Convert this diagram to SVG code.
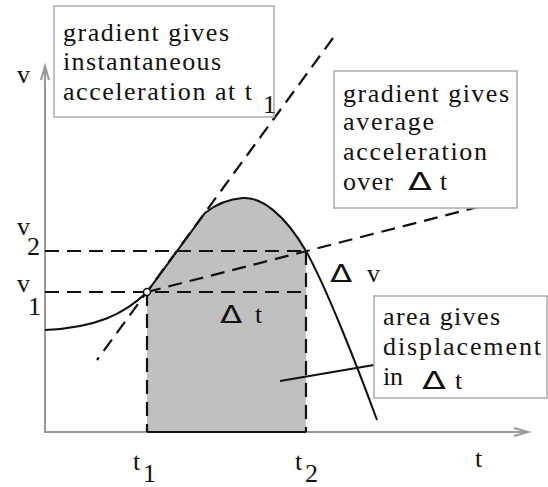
<svg xmlns="http://www.w3.org/2000/svg" width="548" height="487" viewBox="0 0 548 487">
<style>
.t{font-family:'Liberation Serif',serif;font-size:26px;fill:#111}
.d{font-family:'DejaVu Sans',sans-serif;font-size:25px;fill:#111}
.box{fill:#fff;stroke:#aaa;stroke-width:1.5}
.dash{fill:none;stroke:#111;stroke-width:2.2;stroke-dasharray:14 8}
.solid{fill:none;stroke:#111;stroke-width:2}
.axis{fill:none;stroke:#999;stroke-width:2}
</style>
<g id="area">
<path d="M147,432 L147,292 L205,213 C215,205 228,199 243,198 C262,197 285,215 306,251 L306,432 Z" fill="#c0c0c0"/>
</g>
<g id="axes">
<line class="axis" x1="45" y1="432" x2="45" y2="66"/>
<path class="axis" d="M41,80 L45,66 L49,80"/>
<line class="axis" x1="44" y1="432" x2="527" y2="432"/>
<path class="axis" d="M514,428 L528,432 L514,436"/>
<text class="t" x="17" y="83">v</text>
<text class="t" x="17" y="235">v</text>
<text class="t" x="27" y="255">2</text>
<text class="t" x="17" y="292">v</text>
<text class="t" x="28" y="315">1</text>
<text class="t" x="133" y="470">t</text>
<text class="t" x="143" y="482">1</text>
<text class="t" x="295" y="470">t</text>
<text class="t" x="305" y="482">2</text>
<text class="t" x="475" y="467">t</text>
</g>
<g id="connectors">
<line class="dash" x1="45" y1="251" x2="306" y2="251"/>
<line class="dash" x1="45" y1="292" x2="306" y2="292"/>
<line class="dash" x1="147" y1="292" x2="147" y2="432"/>
<line class="dash" x1="306" y1="251" x2="306" y2="432"/>
<line class="dash" x1="333" y1="38" x2="97" y2="360"/>
<line class="dash" x1="147" y1="292" x2="478" y2="207"/>
<line class="solid" x1="147" y1="432" x2="306" y2="432"/>
<path class="solid" d="M45,330 C95,328 125,314 147,292 L205,213 C215,205 228,199 243,198 C262,197 285,215 306,251 C325,285 355,360 377,420"/>
<line class="solid" x1="280" y1="381" x2="374" y2="365"/>
<circle cx="147" cy="292" r="3.5" fill="#fff" stroke="#111" stroke-width="1.5"/>
</g>
<g id="label-dt">
<text class="d" transform="translate(220,323) scale(1.3,1)">Δ</text>
<text class="t" x="255" y="323">t</text>
</g>
<g id="label-dv">
<text class="d" transform="translate(330,282) scale(1.3,1)">Δ</text>
<text class="t" x="367" y="282">v</text>
</g>
<g id="box-instantaneous">
<rect class="box" x="54" y="6" width="220" height="111"/>
<text class="t" x="63" y="41" textLength="166" lengthAdjust="spacing">gradient gives</text>
<text class="t" x="63" y="70" textLength="158" lengthAdjust="spacing">instantaneous</text>
<text class="t" x="63" y="100" textLength="189" lengthAdjust="spacing">acceleration at t</text>
<text class="t" x="263" y="113">1</text>
</g>
<g id="box-average">
<rect class="box" x="334" y="71" width="183" height="137"/>
<text class="t" x="343" y="102" textLength="166" lengthAdjust="spacing">gradient gives</text>
<text class="t" x="343" y="130" textLength="91" lengthAdjust="spacing">average</text>
<text class="t" x="343" y="160" textLength="144" lengthAdjust="spacing">acceleration</text>
<text class="t" x="343" y="190" textLength="50" lengthAdjust="spacing">over</text>
<text class="d" transform="translate(408,190) scale(1.4,1)">Δ</text>
<text class="t" x="440" y="190">t</text>
</g>
<g id="box-area">
<rect class="box" x="374" y="296" width="173" height="102"/>
<text class="t" x="383" y="325" textLength="117" lengthAdjust="spacing">area gives</text>
<text class="t" x="383" y="355" textLength="158" lengthAdjust="spacing">displacement</text>
<text class="t" x="383" y="385" textLength="20" lengthAdjust="spacing">in</text>
<text class="d" transform="translate(422,389) scale(1.4,1)">Δ</text>
<text class="t" x="455" y="389">t</text>
</g>
</svg>
